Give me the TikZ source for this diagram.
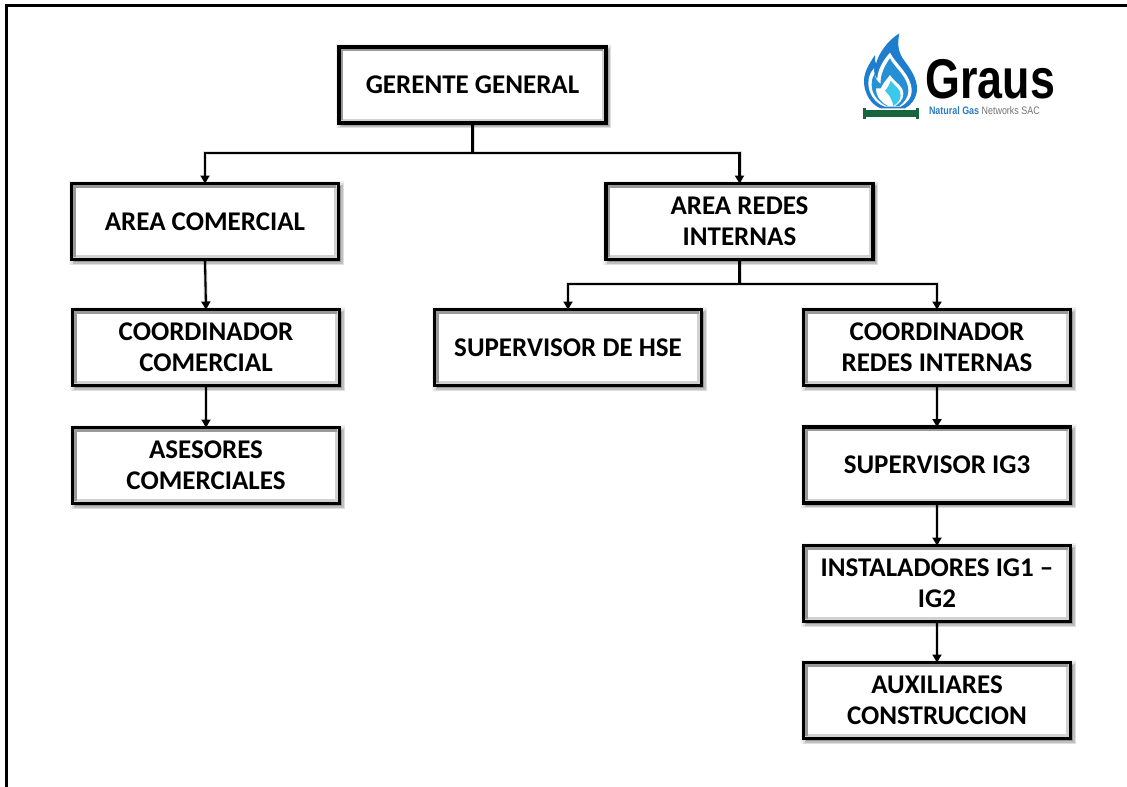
\documentclass[tikz,border=0pt]{standalone}
\usepackage{fontspec}
\setmainfont{Carlito}
\newfontfamily\logofont{Liberation Sans}
\usetikzlibrary{arrows.meta,shadows}
\definecolor{bevelA}{gray}{0.60}
\definecolor{bevelB}{gray}{0.82}
\definecolor{flameOut}{RGB}{30,125,205}
\definecolor{flameIn}{RGB}{60,200,235}
\definecolor{pipe}{RGB}{25,100,60}
\definecolor{logoBlue}{RGB}{45,125,195}
\tikzset{
  softshadow/.style={
    general shadow={shadow xshift=1pt,shadow yshift=-1pt,draw=black,fill=black,line width=8pt,opacity=.05},
    general shadow={shadow xshift=2pt,shadow yshift=-2pt,draw=black,fill=black,line width=6pt,opacity=.08},
    general shadow={shadow xshift=2.5pt,shadow yshift=-2.5pt,draw=black,fill=black,line width=3pt,opacity=.14}},
  orgbox/.style={softshadow,rectangle,draw=black,line width=3.2pt,fill=white,outer sep=0pt,inner sep=0pt,
    minimum width=267pt,minimum height=76pt,align=center,
    font=\fontsize{27}{31}\selectfont\bfseries,
    execute at begin node={\vspace*{3pt}}},
  bevellight/.style={draw=bevelB,line width=2.6pt},
  beveldark/.style={draw=bevelA,line width=2.6pt},
  linkshade/.style={draw=black,draw opacity=.13,line width=4pt},
  link/.style={draw=black,line width=2.1pt},
  stem/.style={draw=black,line width=2.8pt},
  linkarrow/.style={link,-{Triangle[length=8pt,width=9pt]}},
  logotext/.style={inner sep=0pt,outer sep=0pt,anchor=base west}
}
\begin{document}
\begin{tikzpicture}[x=1pt,y=-1pt]
\useasboundingbox (0,0) rectangle (1127,787);
\fill[white] (0,0) rectangle (1127,787);
\draw[black,line width=3.2pt] (6.5,787) -- (6.5,5.5) -- (1127,5.5);

\node[orgbox] (g)  at (472.5,85) {GERENTE GENERAL};
\node[orgbox] (ac) at (205,221.5) {AREA COMERCIAL};
\node[orgbox] (ar) at (739.5,221.5) {AREA REDES\\INTERNAS};
\node[orgbox] (cc) at (206,347.5) {COORDINADOR\\COMERCIAL};
\node[orgbox] (as) at (206,465.5) {ASESORES\\COMERCIALES};
\node[orgbox] (hs) at (568,347.5) {SUPERVISOR DE HSE};
\node[orgbox] (cr) at (937,347.5) {COORDINADOR\\REDES INTERNAS};
\node[orgbox] (ig) at (937,465) {SUPERVISOR IG3};
\node[orgbox] (in) at (937,583.5) {INSTALADORES IG1 --\\IG2};
\node[orgbox] (au) at (937,700.5) {AUXILIARES\\CONSTRUCCION};

\foreach \n in {g,ac,ar,cc,as,hs,cr,ig,in,au}{
  \draw[bevellight] ([shift={(3pt,-3pt)}]\n.north west) rectangle ([shift={(-3pt,3pt)}]\n.south east);
  \draw[beveldark] ([shift={(3pt,3pt)}]\n.south west) |- ([shift={(-3pt,-3pt)}]\n.north east);
}

\coordinate (j1) at (472.5,153);
\coordinate (j2) at (739.5,284);
\begin{scope}[shift={(2pt,2pt)}]
  \draw[linkshade] (g.south) -- (j1);
  \draw[linkshade] (j1) -| (ac.north);
  \draw[linkshade] (j1) -| (ar.north);
  \draw[linkshade] (ar.south) -- (j2);
  \draw[linkshade] (j2) -| (hs.north);
  \draw[linkshade] (j2) -| (cr.north);
  \draw[linkshade] (ac.south) -- (cc.north);
  \draw[linkshade] (cc.south) -- (as.north);
  \draw[linkshade] (cr.south) -- (ig.north);
  \draw[linkshade] (ig.south) -- (in.north);
  \draw[linkshade] (in.south) -- (au.north);
\end{scope}
\draw[stem] (g) -- (j1);
\draw[linkarrow] (j1) -| (ac.north);
\draw[linkarrow] (j1) -| (ar.north);
\draw[stem] (ar) -- (j2);
\draw[linkarrow] (j2) -| (hs.north);
\draw[linkarrow] (j2) -| (cr.north);
\draw[linkarrow] (ac.south) -- (cc.north);
\draw[linkarrow] (cc) -- (as);
\draw[linkarrow] (cr) -- (ig);
\draw[linkarrow] (ig) -- (in);
\draw[linkarrow] (in) -- (au);

% logo (drawn in the 3x crop coordinates)
\begin{scope}[shift={(840,20)},x=0.3333pt,y=-0.3333pt]
  \fill[flameOut] (178,40) .. controls (172,70) and (172,95) .. (195,125)
     .. controls (222,160) and (235,190) .. (230,218)
     .. controls (226,240) and (212,255) .. (195,265) -- (122,265)
     .. controls (95,255) and (75,225) .. (72,190)
     .. controls (70,160) and (85,135) .. (105,105)
     .. controls (105,118) and (105,125) .. (108,132)
     .. controls (115,100) and (145,60) .. (178,40) -- cycle;
  \fill[white] (150,98) .. controls (165,130) and (215,165) .. (215,212)
     .. controls (215,235) and (200,250) .. (182,260) -- (135,260)
     .. controls (105,250) and (85,220) .. (85,190)
     .. controls (85,170) and (92,155) .. (102,145)
     .. controls (102,160) and (105,170) .. (112,178)
     .. controls (112,150) and (130,120) .. (150,98) -- cycle;
  \fill[flameOut!75!flameIn] (150,115) .. controls (160,140) and (205,170) .. (205,212)
     .. controls (205,232) and (192,248) .. (178,258) -- (140,258)
     .. controls (112,245) and (95,220) .. (95,195)
     .. controls (95,180) and (98,170) .. (104,160)
     .. controls (106,175) and (112,185) .. (122,192)
     .. controls (120,165) and (135,135) .. (150,115) -- cycle;
  \fill[white] (150,165) .. controls (165,190) and (190,195) .. (190,222)
     .. controls (190,240) and (175,252) .. (165,258) -- (145,258)
     .. controls (125,250) and (108,230) .. (108,205) -- (122,205) -- (132,188) -- cycle;
  \fill[flameIn] (152,182) .. controls (165,200) and (182,205) .. (182,226)
     .. controls (182,240) and (172,250) .. (160,258)
     .. controls (155,235) and (148,225) .. (135,212)
     .. controls (142,205) and (148,195) .. (152,182) -- cycle;
  \fill[pipe] (70,264) rectangle (79,296);
  \fill[pipe] (228,264) rectangle (237,296);
  \fill[pipe] (79,270) rectangle (228,290);
\end{scope}
\node[logotext,xscale=.8] (lg) at (925.5,98) {\logofont\fontsize{56}{56}\selectfont\bfseries Graus};
\node[logotext,xscale=.82] (lt) at (929,114) {\logofont\fontsize{10.9}{10.9}\selectfont{\color{logoBlue}\bfseries Natural Gas} {\color{gray!90!black}Networks SAC}};
\end{tikzpicture}
\end{document}
